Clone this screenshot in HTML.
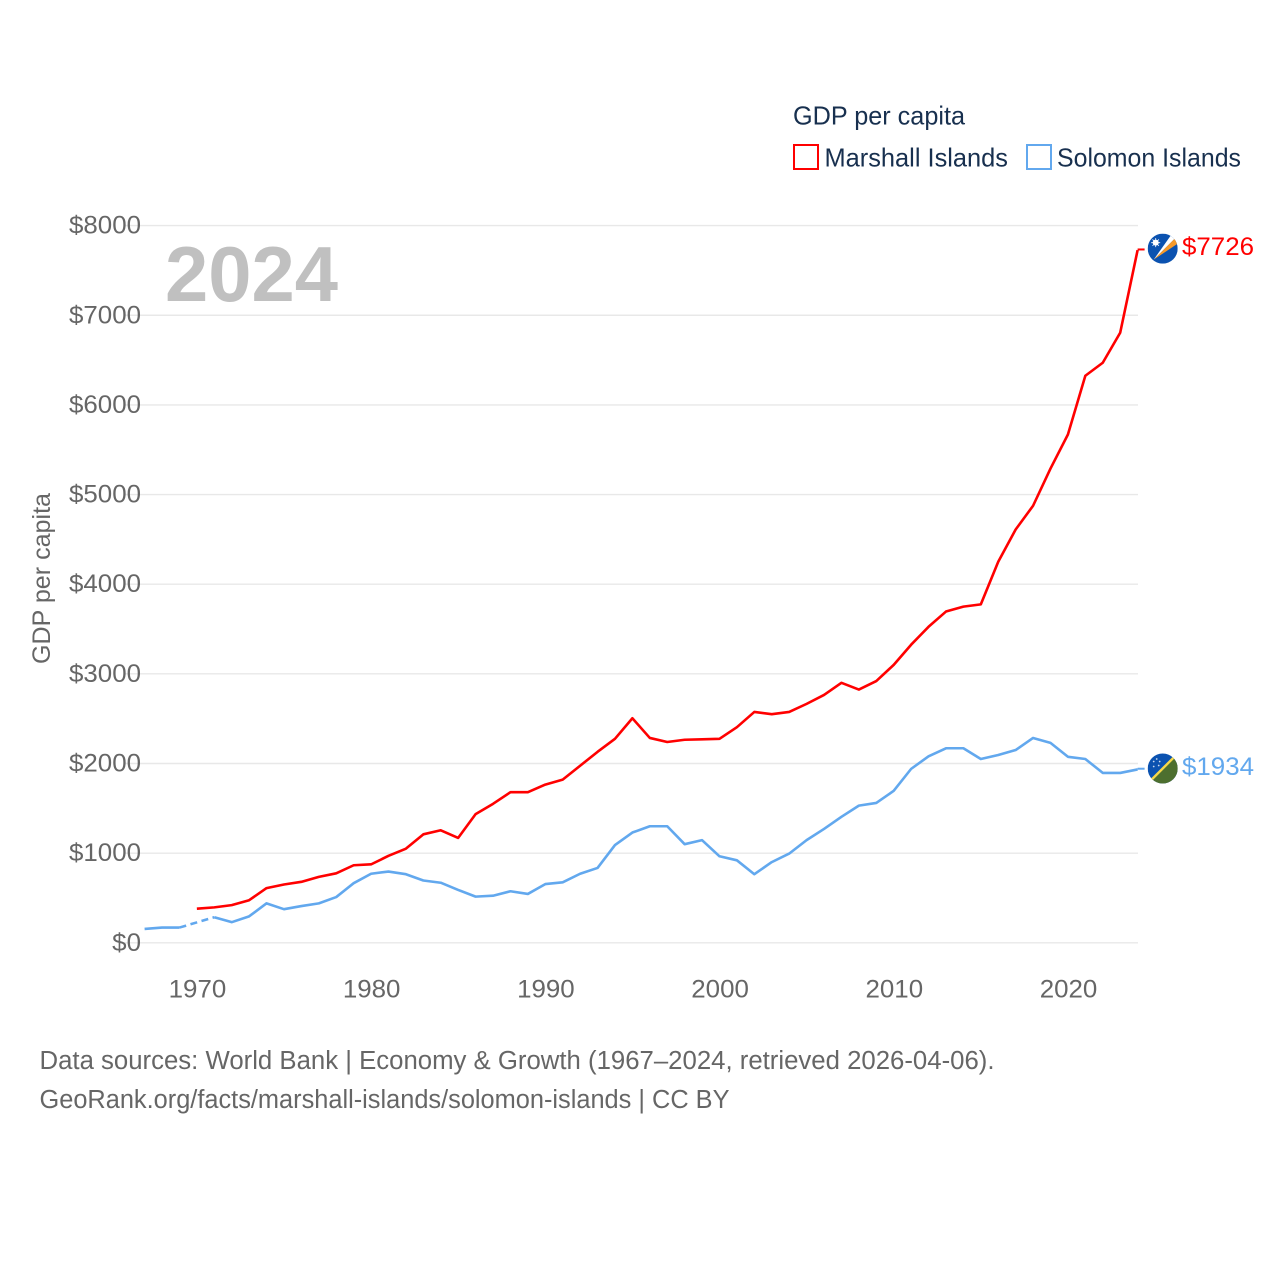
<!DOCTYPE html>
<html lang="en">
<head>
<meta charset="utf-8">
<title>GDP per capita: Marshall Islands and Solomon Islands</title>
<style>
html,body{margin:0;padding:0;background:#fff;}
svg{display:block;}
text{font-family:"Liberation Sans",sans-serif;}
</style>
</head>
<body>
<svg id="chart" xmlns="http://www.w3.org/2000/svg" width="1280" height="1280" viewBox="0 0 1280 1280">
  <rect x="0" y="0" width="1280" height="1280" fill="#fff"/>
  <g id="grid"></g>
  <g id="yticks"></g>
  <g id="xticks"></g>
  <text transform="translate(50,664) rotate(-90)" font-size="25" fill="#666" textLength="171" lengthAdjust="spacingAndGlyphs">GDP per capita</text>
  <text x="165" y="301" font-size="78" font-weight="700" fill="#c0c0c0" textLength="173" lengthAdjust="spacingAndGlyphs">2024</text>

  <g>
    <text x="793" y="124.5" font-size="26" fill="#18304f" textLength="172" lengthAdjust="spacingAndGlyphs">GDP per capita</text>
    <rect x="794" y="145" width="24" height="24" fill="#fff" stroke="#ff0000" stroke-width="2"/>
    <text x="824.5" y="166.5" font-size="26" fill="#18304f" textLength="183.5" lengthAdjust="spacingAndGlyphs">Marshall Islands</text>
    <rect x="1027" y="145" width="24" height="24" fill="#fff" stroke="#62a8ee" stroke-width="2"/>
    <text x="1057" y="166.5" font-size="26" fill="#18304f" textLength="184" lengthAdjust="spacingAndGlyphs">Solomon Islands</text>
  </g>

  <g id="series"></g>

  <defs>
    <clipPath id="clip-mh"><circle cx="0" cy="0" r="15"/></clipPath>
    <clipPath id="clip-sb"><circle cx="0" cy="0" r="15"/></clipPath>
  </defs>
  <g id="flag-mh" clip-path="url(#clip-mh)">
    <rect x="-15" y="-15" width="30" height="30" fill="#0b52b0"/>
    <polygon points="-9,11 8,-13 12,-10" fill="#ffffff"/>
    <polygon points="-9,11 12,-10 15,-5" fill="#f79a2a"/>
    <circle cx="-7" cy="-6" r="3" fill="#fff"/>
    <path d="M-7,-10.5V-1.5M-11.5,-6H-2.5M-10.2,-9.2L-3.8,-2.8M-3.8,-9.2L-10.2,-2.8" stroke="#fff" stroke-width="0.8"/>
  </g>
  <g id="flag-sb" clip-path="url(#clip-sb)">
    <rect x="-15" y="-15" width="30" height="30" fill="#0b52b0"/>
    <polygon points="-15,15 15,15 15,-15" fill="#4d6f2f"/>
    <line x1="-15" y1="15" x2="15" y2="-15" stroke="#f6d84a" stroke-width="2.4"/>
    <g fill="#c9d8ee">
      <circle cx="-9" cy="-7" r="0.9"/><circle cx="-3" cy="-7" r="0.9"/>
      <circle cx="-6" cy="-9.5" r="0.9"/><circle cx="-9" cy="-2" r="0.9"/><circle cx="-4" cy="-3" r="0.9"/>
    </g>
  </g>

  <text id="val-mh" x="1182" y="255" font-size="25" fill="#ff0000" textLength="72" lengthAdjust="spacingAndGlyphs"></text>
  <text id="val-sb" x="1182" y="775" font-size="25" fill="#62a8ee" textLength="72" lengthAdjust="spacingAndGlyphs"></text>

  <g>
    <text x="39.5" y="1069" font-size="25.5" fill="#666" textLength="955" lengthAdjust="spacingAndGlyphs">Data sources: World Bank | Economy &amp; Growth (1967–2024, retrieved 2026-04-06).</text>
    <text x="39.5" y="1108" font-size="25.5" fill="#666" textLength="690" lengthAdjust="spacingAndGlyphs">GeoRank.org/facts/marshall-islands/solomon-islands | CC BY</text>
  </g>
</svg>
<script>
const startYear = 1967;
const yTickValues = [0, 1000, 2000, 3000, 4000, 5000, 6000, 7000, 8000];
const xTickYears = [1970, 1980, 1990, 2000, 2010, 2020];
const marshallValues = [null, null, null, 380, 395, 420, 475, 610, 650, 680, 735, 775, 865, 875, 970, 1050, 1210, 1255, 1170, 1435, 1550, 1680, 1680, 1765, 1820, 1975, 2130, 2275, 2505, 2285, 2240, 2265, 2270, 2275, 2405, 2575, 2550, 2575, 2665, 2765, 2900, 2825, 2920, 3100, 3325, 3525, 3695, 3750, 3775, 4250, 4610, 4875, 5290, 5670, 6325, 6470, 6805, 7726];
const solomonValues = [155, 170, 170, null, 285, 230, 295, 440, 375, 410, 440, 510, 665, 770, 795, 765, 695, 670, 590, 515, 525, 575, 545, 655, 675, 770, 835, 1090, 1230, 1300, 1300, 1100, 1145, 965, 920, 765, 900, 995, 1145, 1270, 1405, 1530, 1560, 1695, 1940, 2080, 2170, 2170, 2050, 2095, 2150, 2285, 2230, 2075, 2050, 1895, 1895, 1934];

const NS = 'http://www.w3.org/2000/svg';
const xScale = year => 144.6 + (year - startYear) * (1137.6 - 144.6) / 57;
const yScale = value => 942.8 - value * (942.8 - 225.6) / 8000;
const fmt = value => '$' + value;

function make(tag, attrs, parent, text) {
  const el = document.createElementNS(NS, tag);
  for (const k in attrs) el.setAttribute(k, attrs[k]);
  if (text !== undefined) el.textContent = text;
  parent.appendChild(el);
  return el;
}

const grid = document.getElementById('grid');
const yticks = document.getElementById('yticks');
const xticks = document.getElementById('xticks');
const series = document.getElementById('series');

yTickValues.forEach(v => {
  const line = make('line', {x1: 124, x2: 1138, y1: yScale(v), y2: yScale(v), stroke: '#e8e8e8', 'stroke-width': 1.4}, grid);
  
  
  const label = fmt(v);
  const t = make('text', {x: 141, y: yScale(v) + 8, 'text-anchor': 'end', 'font-size': 25, fill: '#666', textLength: label.length * 14.4, lengthAdjust: 'spacingAndGlyphs'}, yticks, label);
  
  
});

xTickYears.forEach(year => {
  const t = make('text', {x: xScale(year) + 0.6, y: 997.5, 'text-anchor': 'middle', 'font-size': 25, fill: '#666', textLength: String(year).length * 14.4, lengthAdjust: 'spacingAndGlyphs'}, xticks, String(year));
  
  
});

function drawSeries(values, color, name) {
  let seg = [];
  let lastPoint = null;
  let gapPending = false;
  const flush = () => {
    if (seg.length > 1) {
      const solid = make('polyline', {points: seg.join(' '), fill: 'none', stroke: color, 'stroke-width': 2.6, 'stroke-linejoin': 'round'}, series);
      
      
    }
    seg = [];
  };
  values.forEach((v, i) => {
    if (v === null) {
      if (lastPoint) { flush(); gapPending = true; }
      return;
    }
    const p = [xScale(startYear + i), yScale(v)];
    if (gapPending) {
      const dash = make('line', {x1: lastPoint[0], y1: lastPoint[1], x2: p[0], y2: p[1], stroke: color, 'stroke-width': 2.6, 'stroke-dasharray': '7 4.5'}, series);
      
      
      gapPending = false;
    }
    seg.push(p.join(','));
    lastPoint = p;
  });
  flush();
  const connector = make('line', {x1: lastPoint[0], y1: lastPoint[1] - 0.7, x2: lastPoint[0] + 7, y2: lastPoint[1] - 0.7, stroke: color, 'stroke-width': 2}, series);
  
  
  return lastPoint;
}

const endMh = drawSeries(marshallValues, '#ff0000', 'marshall-islands');
const endSb = drawSeries(solomonValues, '#62a8ee', 'solomon-islands');

document.getElementById('flag-mh').setAttribute('transform', 'translate(1162.7,' + (endMh[1] - 1.5) + ')');
document.getElementById('flag-sb').setAttribute('transform', 'translate(1162.7,' + (endSb[1] - 0.9) + ')');
document.getElementById('val-mh').textContent = fmt(marshallValues[marshallValues.length - 1]);
document.getElementById('val-sb').textContent = fmt(solomonValues[solomonValues.length - 1]);
</script>
</body>
</html>
